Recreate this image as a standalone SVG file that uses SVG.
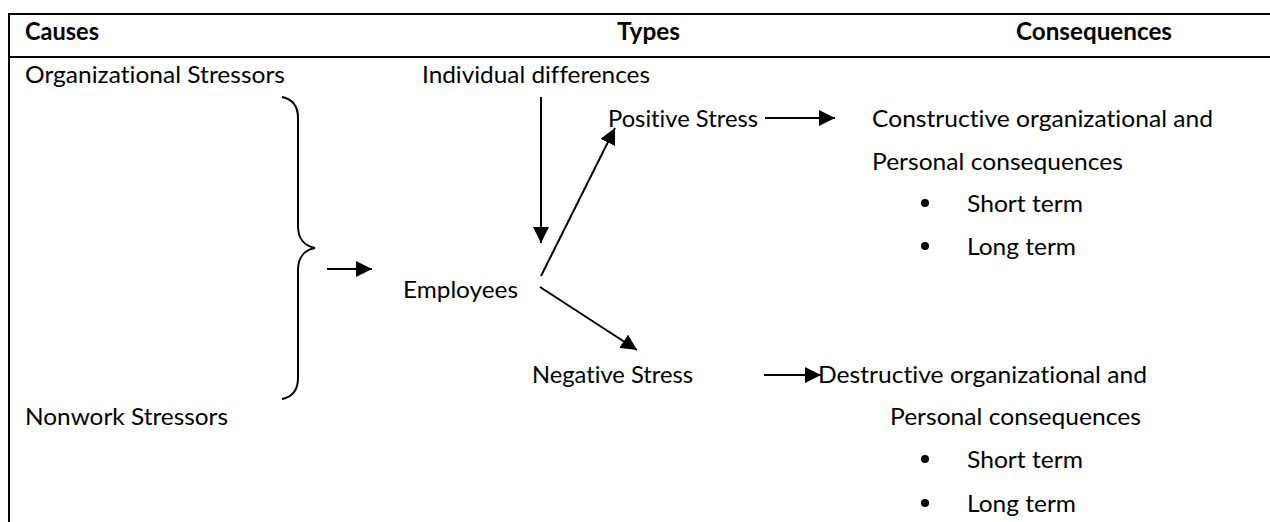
<svg xmlns="http://www.w3.org/2000/svg" width="1270" height="522" viewBox="0 0 1270 522">
<style>
text{font-family:Lato,"Liberation Sans",sans-serif;font-size:24px;fill:#000;font-variant-ligatures:none;font-feature-settings:"liga" 0,"clig" 0}
.h{font-weight:bold}
.ln{stroke:#000;stroke-width:2;fill:none}
.ar{stroke:#000;stroke-width:2;fill:none;marker-end:url(#ah)}
</style>
<defs>
<marker id="ah" markerUnits="userSpaceOnUse" markerWidth="16" markerHeight="16" refX="15" refY="7.5" orient="auto" viewBox="0 0 15 15">
<path d="M0,0 L15,7.5 L0,15 z" fill="#000"/>
</marker>
</defs>
<rect width="1270" height="522" fill="#fff"/>
<g id="table">
<line class="ln" x1="9" y1="14" x2="1270" y2="14"/>
<line class="ln" x1="8" y1="57" x2="1270" y2="57"/>
<line class="ln" x1="9" y1="13" x2="9" y2="522"/>
<text class="h" x="25" y="40" textLength="74" lengthAdjust="spacingAndGlyphs">Causes</text>
<text class="h" x="617" y="40" textLength="63" lengthAdjust="spacingAndGlyphs">Types</text>
<text class="h" x="1016" y="40" textLength="156" lengthAdjust="spacingAndGlyphs">Consequences</text>
</g>
<g id="org-stressors"><text x="25" y="83" textLength="260" lengthAdjust="spacingAndGlyphs">Organizational Stressors</text></g>
<g id="nonwork-stressors"><text x="25" y="425" textLength="203" lengthAdjust="spacingAndGlyphs">Nonwork Stressors</text></g>
<g id="individual-differences"><text x="422" y="83" textLength="228" lengthAdjust="spacingAndGlyphs">Individual differences</text></g>
<g id="employees"><text x="403" y="298" textLength="115" lengthAdjust="spacingAndGlyphs">Employees</text></g>
<g id="positive-stress"><text x="608" y="127" textLength="150" lengthAdjust="spacingAndGlyphs">Positive Stress</text></g>
<g id="negative-stress"><text x="532" y="383" textLength="161" lengthAdjust="spacingAndGlyphs">Negative Stress</text></g>
<g id="constructive">
<text x="872" y="127" textLength="341" lengthAdjust="spacingAndGlyphs">Constructive organizational and</text>
<text x="872" y="170" textLength="251" lengthAdjust="spacingAndGlyphs">Personal consequences</text>
<circle cx="925" cy="203" r="4"/>
<text x="967" y="212" textLength="116" lengthAdjust="spacingAndGlyphs">Short term</text>
<circle cx="925" cy="246" r="4"/>
<text x="967" y="255" textLength="109" lengthAdjust="spacingAndGlyphs">Long term</text>
</g>
<g id="destructive">
<text x="818" y="383" textLength="329" lengthAdjust="spacingAndGlyphs">Destructive organizational and</text>
<text x="890" y="425" textLength="251" lengthAdjust="spacingAndGlyphs">Personal consequences</text>
<circle cx="925" cy="459" r="4"/>
<text x="967" y="468" textLength="116" lengthAdjust="spacingAndGlyphs">Short term</text>
<circle cx="925" cy="503" r="4"/>
<text x="967" y="512" textLength="109" lengthAdjust="spacingAndGlyphs">Long term</text>
</g>
<g id="connectors">
<path class="ln" d="M282,97 C292,99 298,106 298,118 L298,226 C298,238 304,246 315,248 C304,250 298,258 298,270 L298,378 C298,390 292,397 282,399"/>
<line class="ar" x1="327" y1="269" x2="372" y2="269"/>
<line class="ar" x1="541" y1="97" x2="541" y2="243"/>
<line class="ar" x1="541" y1="276" x2="615" y2="128"/>
<line class="ar" x1="540" y1="287" x2="637" y2="350"/>
<line class="ar" x1="765" y1="118" x2="835" y2="118"/>
<line class="ar" x1="764" y1="375" x2="821" y2="375"/>
</g>
</svg>
